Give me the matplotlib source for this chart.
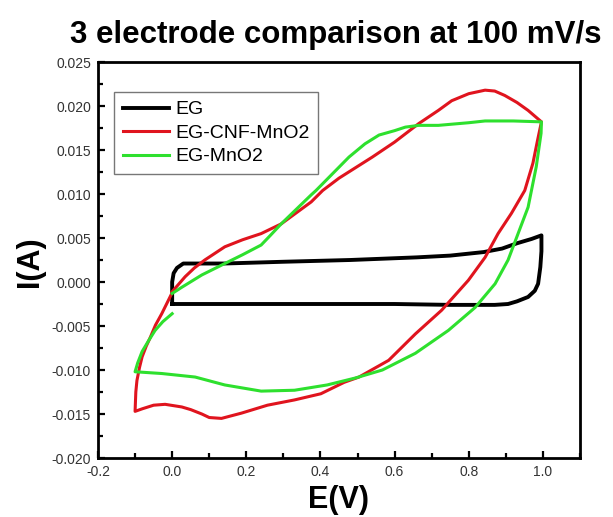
import matplotlib
matplotlib.use("Agg")
import matplotlib.pyplot as plt
from matplotlib.ticker import MultipleLocator, FormatStrFormatter

plt.rcParams['font.family'] = ['Liberation Sans', 'DejaVu Sans']

# Cyclic voltammograms at 100 mV/s: potential E (V) and current I (A)
eg_e = [0.0, 0.0, 0.004, 0.013, 0.03, 0.14, 0.30, 0.48, 0.66, 0.75, 0.84, 0.89,
        0.93, 0.97, 0.996, 0.996, 0.993, 0.987, 0.978, 0.96, 0.93, 0.906, 0.87,
        0.75, 0.60, 0.45, 0.30, 0.15, 0.0]
eg_i = [-0.0025, 0.0, 0.0010, 0.0016, 0.0021, 0.0021, 0.0023, 0.0025, 0.0028,
        0.0030, 0.0034, 0.0038, 0.0044, 0.0049, 0.0053, 0.0035, 0.0017, -0.0002,
        -0.0010, -0.0017, -0.0022, -0.0025, -0.0026, -0.0026, -0.0025, -0.0025,
        -0.0025, -0.0025, -0.0025]

cnf_e = [0.0, 0.035, 0.06, 0.088, 0.142, 0.19, 0.24, 0.294, 0.375, 0.406, 0.45,
         0.54, 0.60, 0.665, 0.718, 0.754, 0.80, 0.844, 0.87, 0.897, 0.93, 0.96,
         0.996, 0.985, 0.973, 0.951, 0.915, 0.879, 0.844, 0.799, 0.727, 0.656,
         0.584, 0.504, 0.464, 0.401, 0.33, 0.257, 0.187, 0.133, 0.10, 0.08, 0.05,
         0.026, -0.019, -0.05, -0.08, -0.1, -0.098, -0.095, -0.088, -0.081,
         -0.07, -0.059, -0.045, -0.028, -0.001]
cnf_i = [-0.0011, 0.0006, 0.0016, 0.0025, 0.0040, 0.0048, 0.0055, 0.0066, 0.0091,
         0.0104, 0.0118, 0.0142, 0.0159, 0.0180, 0.0195, 0.0206, 0.0214, 0.0218,
         0.0217, 0.0212, 0.0204, 0.0195, 0.0182, 0.0160, 0.0135, 0.0104, 0.0078,
         0.0055, 0.0028, 0.0002, -0.0032, -0.0059, -0.0089, -0.0108, -0.0114,
         -0.0127, -0.0134, -0.0140, -0.0149, -0.0155, -0.0154, -0.0150, -0.0145,
         -0.0142, -0.0139, -0.0140, -0.0144, -0.0147, -0.0125, -0.0112, -0.0097,
         -0.0085, -0.0073, -0.0063, -0.0049, -0.0036, -0.0013]

mno2_e = [0.0, 0.026, 0.08, 0.142, 0.19, 0.24, 0.265, 0.294, 0.375, 0.388, 0.477,
          0.52, 0.558, 0.60, 0.629, 0.665, 0.718, 0.80, 0.844, 0.92, 0.996, 0.995,
          0.982, 0.96, 0.933, 0.906, 0.871, 0.817, 0.745, 0.656, 0.567, 0.495,
          0.418, 0.33, 0.24, 0.142, 0.062, -0.028, -0.1, -0.093, -0.081, -0.064,
          -0.046, -0.025, 0.0]
mno2_i = [-0.0013, -0.0006, 0.0008, 0.0021, 0.0031, 0.0042, 0.0053, 0.0066,
          0.0099, 0.0104, 0.0142, 0.0157, 0.0167, 0.0172, 0.0176, 0.0178, 0.0178,
          0.0181, 0.0183, 0.0183, 0.0182, 0.0169, 0.0131, 0.0085, 0.0055, 0.0025,
          -0.0002, -0.0029, -0.0055, -0.0081, -0.0100, -0.0109, -0.0117, -0.0123,
          -0.0124, -0.0117, -0.0108, -0.0104, -0.0102, -0.0092, -0.0079, -0.0067,
          -0.0055, -0.0045, -0.0036]

fig = plt.figure(figsize=(6.13, 5.17), dpi=100)
ax = fig.add_axes([98 / 613, 59 / 517, 482 / 613, 396 / 517])

ax.plot(eg_e, eg_i, color='black', lw=2.8, label='EG', solid_joinstyle='round')
ax.plot(cnf_e, cnf_i, color='#e0141e', lw=2.2, label='EG-CNF-MnO2', solid_joinstyle='round')
ax.plot(mno2_e, mno2_i, color='#2ee02e', lw=2.2, label='EG-MnO2', solid_joinstyle='round')

ax.set_xlim(-0.2, 1.1)
ax.set_ylim(-0.020, 0.025)
ax.xaxis.set_major_locator(MultipleLocator(0.2))
ax.xaxis.set_minor_locator(MultipleLocator(0.1))
ax.yaxis.set_major_locator(MultipleLocator(0.005))
ax.yaxis.set_minor_locator(MultipleLocator(0.0025))
ax.xaxis.set_major_formatter(FormatStrFormatter('%.1f'))
ax.yaxis.set_major_formatter(FormatStrFormatter('%.3f'))

ax.tick_params(which='both', direction='in', top=False, right=False,
               width=1.6, colors='black', labelcolor='#333333', labelsize=10)
ax.tick_params(which='major', length=5, pad=5)
ax.tick_params(which='minor', length=3.5)
for s in ax.spines.values():
    s.set_linewidth(2.0)

leg = ax.legend(loc='upper left', bbox_to_anchor=(0.033, 0.924), borderaxespad=0,
                frameon=True, fancybox=False, edgecolor='#555555', fontsize=14,
                handlelength=2.4, handletextpad=0.3, labelspacing=0.3,
                borderpad=0.45)
leg.get_frame().set_linewidth(1.0)

fig.text(336 / 613, 1 - 35 / 517, '3 electrode comparison at 100 mV/s',
         fontsize=22.5, fontweight='bold', ha='center', va='center')
fig.text(30 / 613, 1 - 262 / 517, 'I(A)', fontsize=22, fontweight='bold',
         rotation=90, ha='center', va='center')
fig.text(338 / 613, 1 - 500 / 517, 'E(V)', fontsize=22, fontweight='bold',
         ha='center', va='center')

fig.savefig('out.png', dpi=100)
